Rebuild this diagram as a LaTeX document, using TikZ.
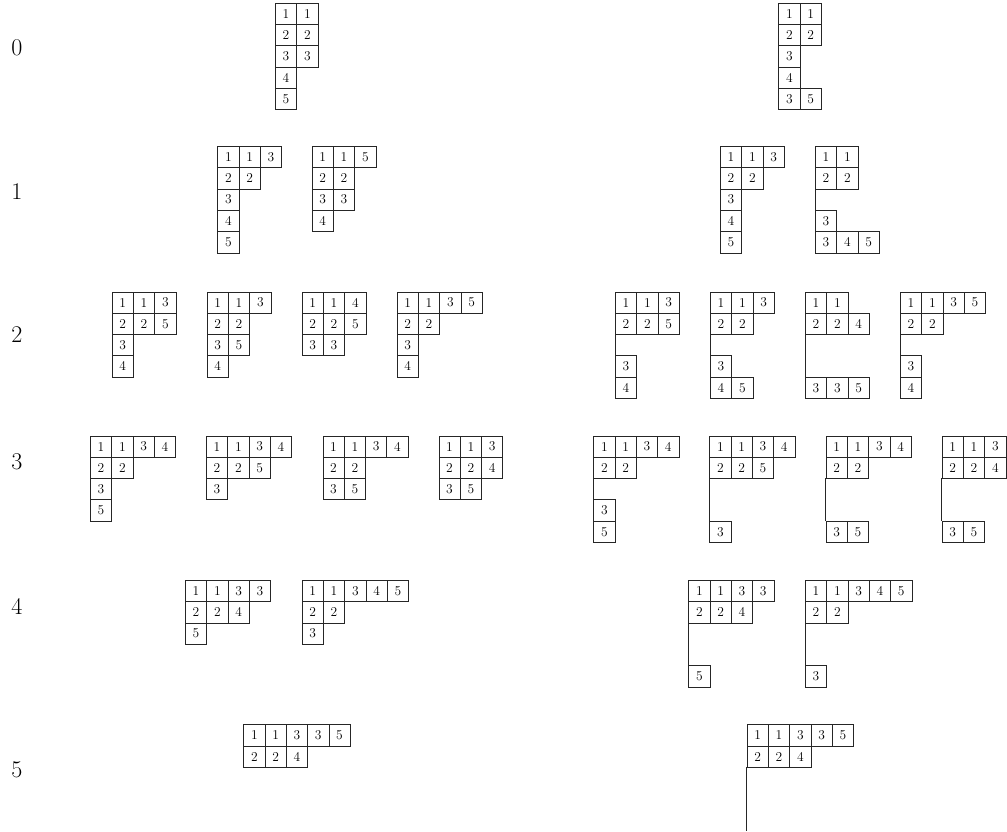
\documentclass[tikz,border=0pt]{standalone}
\def\cellsz{21.3}
\def\gapm{-}
\tikzset{
  cell/.style={draw=black!85, line width=0.75pt, minimum width=21.3pt, minimum height=21.3pt,
    inner sep=0pt, anchor=north west, font=\fontsize{13.5}{15}\selectfont},
  tline/.style={draw=black!85, line width=0.75pt},
  rowlabel/.style={font=\fontsize{24}{28}\selectfont, inner sep=0pt}
}
% name, x, y, rows
\newcommand\tabl[4]{%
  \foreach \r [count=\i] in {#4} {%
    \edef\tmp{\r}%
    \ifx\tmp\gapm
      \draw[tline] (#2, #3+\i*\cellsz-\cellsz) coordinate (#1-g\i) -- (#2, #3+\i*\cellsz);
    \else
      \foreach \e [count=\j] in \r {%
        \node[cell, name=#1-\i-\j] at (#2+\j*\cellsz-\cellsz, #3+\i*\cellsz-\cellsz) {\e};
      }%
    \fi
  }%
}
\begin{document}
\begin{tikzpicture}[x=1pt,y=-1pt]
\useasboundingbox (0,0) rectangle (1007,832);
% row labels
\node[rowlabel] (l0) at (17,48) {0};
\node[rowlabel] (l1) at (17,192) {1};
\node[rowlabel] (l2) at (17,335) {2};
\node[rowlabel] (l3) at (17,462) {3};
\node[rowlabel] (l4) at (17,606) {4};
\node[rowlabel] (l5) at (17,770) {5};
% row 0
\tabl{a0}{275}{2.7}{{1,1},{2,2},{3,3},{4},{5}}
\tabl{b0}{778.3}{2.7}{{1,1},{2,2},{3},{4},{3,5}}
% row 1
\tabl{a1}{217.3}{146}{{1,1,3},{2,2},{3},{4},{5}}
\tabl{a2}{311.7}{146}{{1,1,5},{2,2},{3,3},{4}}
\tabl{b1}{720}{146}{{1,1,3},{2,2},{3},{4},{5}}
\tabl{b2}{815}{146}{{1,1},{2,2},-,{3},{3,4,5}}
% row 2
\tabl{c1}{111.7}{291.5}{{1,1,3},{2,2,5},{3},{4}}
\tabl{c2}{206.7}{291.5}{{1,1,3},{2,2},{3,5},{4}}
\tabl{c3}{301.7}{291.5}{{1,1,4},{2,2,5},{3,3}}
\tabl{c4}{396.7}{291.5}{{1,1,3,5},{2,2},{3},{4}}
\tabl{d1}{615}{291.5}{{1,1,3},{2,2,5},-,{3},{4}}
\tabl{d2}{710}{291.5}{{1,1,3},{2,2},-,{3},{4,5}}
\tabl{d3}{805}{291.5}{{1,1},{2,2,4},-,-,{3,3,5}}
\tabl{d4}{900}{291.5}{{1,1,3,5},{2,2},-,{3},{4}}
% row 3
\tabl{e1}{90}{435.5}{{1,1,3,4},{2,2},{3},{5}}
\tabl{e2}{206}{435.5}{{1,1,3,4},{2,2,5},{3}}
\tabl{e3}{322.5}{435.5}{{1,1,3,4},{2,2},{3,5}}
\tabl{e4}{438.5}{435.5}{{1,1,3},{2,2,4},{3,5}}
\tabl{f1}{593.3}{435.5}{{1,1,3,4},{2,2},-,{3},{5}}
\tabl{f2}{709.3}{435.5}{{1,1,3,4},{2,2,5},-,-,{3}}
\tabl{f3}{825.7}{435.5}{{1,1,3,4},{2,2},-,-,{3,5}}
\tabl{f4}{941.7}{435.5}{{1,1,3},{2,2,4},-,-,{3,5}}
% row 4
\tabl{g1}{185}{580}{{1,1,3,3},{2,2,4},{5}}
\tabl{g2}{301.7}{580}{{1,1,3,4,5},{2,2},{3}}
\tabl{h1}{688.3}{580}{{1,1,3,3},{2,2,4},-,-,{5}}
\tabl{h2}{805}{580}{{1,1,3,4,5},{2,2},-,-,{3}}
% row 5
\tabl{i1}{243.3}{724.3}{{1,1,3,3,5},{2,2,4}}
\tabl{j1}{746.7}{724.3}{{1,1,3,3,5},{2,2,4},-,-,-}
\end{tikzpicture}
\end{document}
